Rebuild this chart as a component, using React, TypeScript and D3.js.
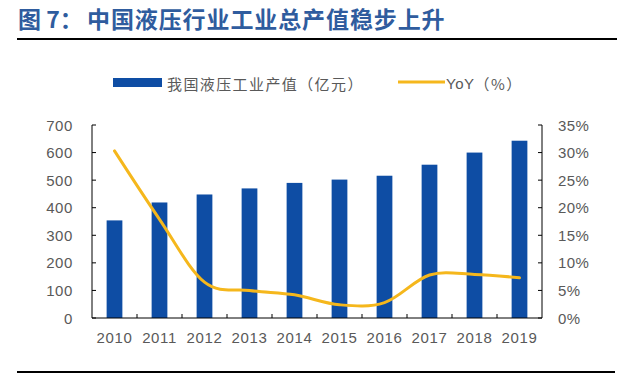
import React from "react";
import * as d3 from "d3";

// chart data
const years = ["2010", "2011", "2012", "2013", "2014", "2015", "2016", "2017", "2018", "2019"];
const output = [354, 419, 448, 470, 490, 502, 516, 556, 600, 643];
const yoy = [30.3, 17.9, 6.5, 5.0, 4.2, 2.4, 2.8, 7.8, 7.9, 7.3];
const leftTicks = [0, 100, 200, 300, 400, 500, 600, 700];
const rightTicks = [0, 5, 10, 15, 20, 25, 30, 35];

const title = "图 7：";
const titleRest = "中国液压行业工业总产值稳步上升";
const barLabel = "我国液压工业产值（亿元）";
const lineLabelLatin = "YoY";
const lineLabelCjk = "（%）";

const BLUE = "#0E4DA4";
const GOLD = "#F5B71C";
const GREY = "#595959";
const NUM_FONT = "'Liberation Sans', Arial, sans-serif";
const CJK_FONT = "'Noto Sans CJK SC', sans-serif";

export default function App() {
  const width = 640;
  const height = 374;
  const plot = { left: 92, right: 542, top: 125, bottom: 318 };

  const x = d3.scaleBand<string>()
    .domain(years)
    .range([plot.left, plot.right])
    .paddingInner(0.65)
    .paddingOuter(0.325);
  const step = x.step();

  const yLeft = d3.scaleLinear().domain([0, 700]).range([plot.bottom, plot.top]);
  const yRight = d3.scaleLinear().domain([0, 35]).range([plot.bottom, plot.top]);

  const cx = (d: string) => (x(d) ?? 0) + x.bandwidth() / 2;

  const linePath = d3.line<number>()
    .x((_, i) => cx(years[i]))
    .y(d => yRight(d))
    .curve(d3.curveCardinal.tension(0))(yoy) ?? "";

  return (
    <div style={{ position: "absolute", left: 0, top: 0 }}>
      <svg width={width} height={height} style={{ display: "block", background: "#fff" }}>
        {/* title */}
        <text x={18} y={28} fontSize={23} fontWeight="bold" fill="#2F5C9E" fontFamily={CJK_FONT}>
          {title}
        </text>
        <text x={87} y={28} fontSize={23} fontWeight="bold" fill="#2F5C9E" fontFamily={CJK_FONT}
          letterSpacing={0.9}>
          {titleRest}
        </text>
        <line x1={17} x2={617} y1={39} y2={39} stroke="#000" strokeWidth={2} />

        {/* legend */}
        <rect x={113} y={78} width={49} height={9} fill={BLUE} />
        <text x={167} y={83} dominantBaseline="central" fontSize={15} fill={GREY} fontFamily={CJK_FONT}
          letterSpacing={1.4}>
          {barLabel}
        </text>
        <line x1={398} x2={445} y1={82} y2={82} stroke={GOLD} strokeWidth={3} />
        <text x={446} y={83} dominantBaseline="central" fontSize={15} fill={GREY}>
          <tspan fontFamily={NUM_FONT} letterSpacing={0.5}>{lineLabelLatin}</tspan>
          <tspan fontFamily={CJK_FONT} letterSpacing={1.5}>{lineLabelCjk}</tspan>
        </text>

        {/* bars */}
        {years.map((yr, i) => (
          <rect key={yr} x={x(yr)} y={yLeft(output[i])} width={x.bandwidth()}
            height={plot.bottom - yLeft(output[i])} fill={BLUE} />
        ))}

        {/* line */}
        <path d={linePath} fill="none" stroke={GOLD} strokeWidth={3} strokeLinecap="round" />

        {/* axes */}
        <g stroke="#000" strokeWidth={1}>
          <line x1={plot.left} x2={plot.left} y1={plot.top} y2={plot.bottom} />
          <line x1={plot.right} x2={plot.right} y1={plot.top} y2={plot.bottom} />
          <line x1={plot.left} x2={plot.right} y1={plot.bottom} y2={plot.bottom} />
          {leftTicks.map(t => (
            <line key={"lt" + t} x1={plot.left} x2={plot.left + 4} y1={yLeft(t)} y2={yLeft(t)} />
          ))}
          {rightTicks.map(t => (
            <line key={"rt" + t} x1={plot.right - 4} x2={plot.right} y1={yRight(t)} y2={yRight(t)} />
          ))}
          {years.slice(1).map((yr, i) => {
            const bx = plot.left + step * (i + 1);
            return <line key={"xt" + yr} x1={bx} x2={bx} y1={plot.bottom - 4} y2={plot.bottom} />;
          })}
        </g>

        {/* tick labels */}
        {leftTicks.map(t => (
          <text key={"ll" + t} x={73} y={yLeft(t)} dominantBaseline="central" textAnchor="end"
            fontSize={15} fill={GREY} fontFamily={NUM_FONT} letterSpacing={0.6}>
            {t}
          </text>
        ))}
        {rightTicks.map(t => (
          <text key={"rl" + t} x={558} y={yRight(t)} dominantBaseline="central"
            fontSize={15} fill={GREY} fontFamily={NUM_FONT} letterSpacing={0.4}>
            {t + "%"}
          </text>
        ))}
        {years.map(yr => (
          <text key={"xl" + yr} x={cx(yr)} y={343} textAnchor="middle"
            fontSize={15} fill={GREY} fontFamily={NUM_FONT} letterSpacing={0.6}>
            {yr}
          </text>
        ))}

        <line x1={17} x2={615} y1={372} y2={372} stroke="#000" strokeWidth={2} />
      </svg>
    </div>
  );
}
